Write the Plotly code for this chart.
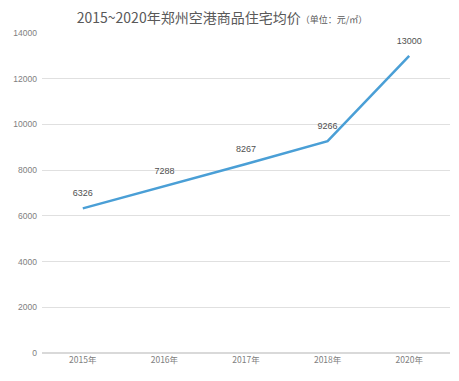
import plotly.graph_objects as go

categories = ["2015年", "2016年", "2017年", "2018年", "2020年"]
prices = [6326, 7288, 8267, 9266, 13000]
y_ticks = [0, 2000, 4000, 6000, 8000, 10000, 12000, 14000]

fig = go.Figure()
fig.add_trace(go.Scatter(
    x=categories, y=prices, mode="lines+markers+text",
    text=[str(v) for v in prices], textposition="top center",
    textfont=dict(size=9, color="#505050", family="Liberation Sans, Arial"),
    line=dict(color="#4A9FD6", width=2.5),
    marker=dict(size=14, color="rgba(0,0,0,0)"),
    cliponaxis=False, showlegend=False, hoverinfo="skip",
))

fig.update_layout(
    width=443, height=365,
    margin=dict(l=34, r=1, t=25, b=20),
    paper_bgcolor="white", plot_bgcolor="white",
    title=dict(
        text='2015~2020年郑州空港商品住宅均价<span style="font-size:9px">（单位：元/㎡）</span>',
        x=0.483, xanchor="center", y=0.972, yanchor="middle",
        font=dict(size=14, color="#595959", family="Noto Sans CJK SC"),
    ),
    xaxis=dict(
        type="category", range=[-0.5, 4.5], showgrid=False, zeroline=False,
        showline=False, ticks="", tickfont=dict(size=8.5, color="#808080", family="Noto Sans CJK SC"),
    ),
    yaxis=dict(
        range=[0, 14000], tickvals=y_ticks, ticktext=[str(v) for v in y_ticks],
        showgrid=True, gridcolor="#e0e0e0", gridwidth=1,
        zeroline=True, zerolinecolor="#d9d9d9", showline=False, ticks="",
        tickfont=dict(size=8.5, color="#808080", family="Liberation Sans, Arial"),
        ticklabelstandoff=4,
    ),
)

fig.write_html("out.html")
